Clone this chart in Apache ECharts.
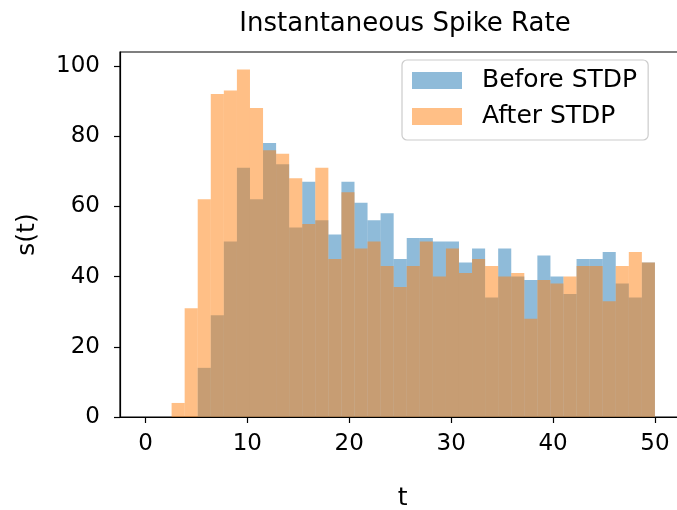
<!DOCTYPE html>
<html>
<head>
<meta charset="utf-8">
<script src="https://cdn.jsdelivr.net/npm/echarts@6/dist/echarts.min.js"></script>
<style>html,body{margin:0;padding:0;background:#fff}#c{width:677px;height:510px}</style>
</head>
<body>
<div id="c"></div>
<script>
// 39 equal bins over [0, 50]
const binCount = 39;
const binStart = 0;
const binEnd = 50;
const beforeSTDP = [0, 0, 14, 29, 50, 71, 62, 78, 72, 54, 67, 56, 52, 67, 61, 56, 58, 45, 51, 51, 50, 50, 44, 48, 34, 48, 40, 39, 46, 40, 35, 45, 45, 47, 38, 34, 44];
const afterSTDP  = [4, 31, 62, 92, 93, 99, 88, 76, 75, 68, 55, 71, 45, 64, 48, 50, 43, 37, 43, 50, 40, 48, 41, 45, 43, 40, 41, 28, 39, 38, 40, 43, 43, 33, 43, 47, 44];
// values above start at bin index 2
const firstBin = 2;
const xTicks = [0, 10, 20, 30, 40, 50];
const yTicks = [0, 20, 40, 60, 80, 100];

const w = (binEnd - binStart) / binCount;
function toData(vals) {
  return vals.map((v, i) => {
    const k = i + firstBin;
    return [binStart + k * w, binStart + (k + 1) * w, v];
  });
}

function renderBar(params, api) {
  const p0 = api.coord([api.value(0), api.value(2)]);
  const p1 = api.coord([api.value(1), 0]);
  return {
    type: 'rect',
    shape: { x: p0[0], y: p0[1], width: p1[0] - p0[0], height: p1[1] - p0[1] },
    style: { fill: api.visual('color') }
  };
}

const font = 'DejaVu Sans';
const chart = echarts.init(document.getElementById('c'), null, { renderer: 'canvas' });
chart.setOption({
  animation: false,
  backgroundColor: '#fff',
  title: {
    text: 'Instantaneous Spike Rate',
    left: 400, top: 6, textAlign: 'center',
    textStyle: { fontFamily: font, fontSize: 26, fontWeight: 'normal', color: '#000' }
  },
  legend: {
    orient: 'vertical',
    left: 402, top: 60,
    padding: [8, 11, 11, 10],
    itemGap: 11,
    itemWidth: 50, itemHeight: 17,
    borderColor: '#cccccc', borderWidth: 1.2, borderRadius: 5,
    backgroundColor: 'rgba(255,255,255,0.8)',
    textStyle: { fontFamily: font, fontSize: 25, color: '#000', padding: [0, 0, 0, 15] },
    data: [
      { name: 'Before STDP', icon: 'rect', itemStyle: { color: 'rgba(31,119,180,0.5)' } },
      { name: 'After STDP', icon: 'rect', itemStyle: { color: 'rgba(255,127,14,0.5)' } }
    ]
  },
  grid: { left: 120, top: 52, width: 565.5, height: 365, outerBoundsMode: 'none', containLabel: false,
          show: true, borderColor: '#000', borderWidth: 1.2, backgroundColor: 'transparent' },
  xAxis: {
    type: 'value', min: -2.5, max: 53,
    name: 't', nameLocation: 'middle', nameGap: 69,
    nameTextStyle: { fontFamily: font, fontSize: 25, color: '#000' },
    axisLine: { show: true, onZero: false, lineStyle: { color: '#000', width: 1.2 } },
    axisTick: { show: true, length: 6, lineStyle: { color: '#000', width: 1.2 }, customValues: xTicks },
    axisLabel: { fontFamily: font, fontSize: 23, color: '#000', margin: 16, customValues: xTicks },
    splitLine: { show: false }
  },
  yAxis: {
    type: 'value', min: 0, max: 103.95,
    name: 's(t)', nameLocation: 'middle', nameGap: 80, nameRotate: 90,
    nameTextStyle: { fontFamily: font, fontSize: 25, color: '#000' },
    axisLine: { show: true, onZero: false, lineStyle: { color: '#000', width: 1.2 } },
    axisTick: { show: true, length: 6, lineStyle: { color: '#000', width: 1.2 }, customValues: yTicks },
    axisLabel: { fontFamily: font, fontSize: 23, color: '#000', margin: 20, customValues: yTicks },
    splitLine: { show: false }
  },
  series: [
    { name: 'Before STDP', type: 'custom', renderItem: renderBar, itemStyle: { color: 'rgba(31,119,180,0.5)' },
      encode: { x: [0, 1], y: 2 }, data: toData(beforeSTDP) },
    { name: 'After STDP', type: 'custom', renderItem: renderBar, itemStyle: { color: 'rgba(255,127,14,0.5)' },
      encode: { x: [0, 1], y: 2 }, data: toData(afterSTDP) }
  ]
});
</script>
</body>
</html>
